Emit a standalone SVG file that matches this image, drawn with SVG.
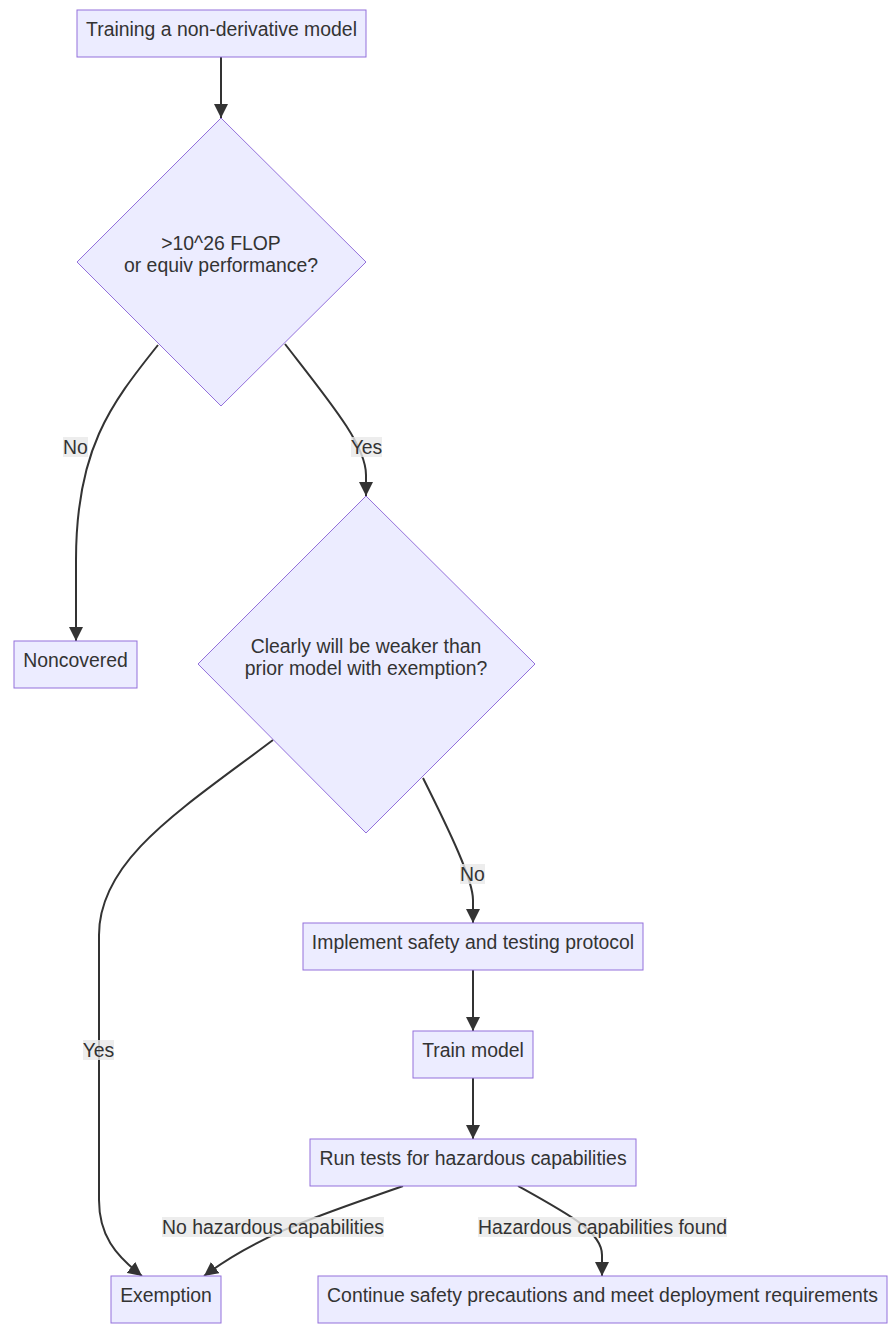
<svg xmlns="http://www.w3.org/2000/svg" width="896" height="1333" viewBox="0 0 896 1333">
<defs>
<marker id="arr" viewBox="0 0 10 10" refX="10" refY="5" markerUnits="userSpaceOnUse" markerWidth="14" markerHeight="14" orient="auto">
<path d="M0,0 L10,5 L0,10 z" fill="#333"/>
</marker>
<style>
.node{fill:#ECECFF;stroke:#9370DB;stroke-width:1}
.t{font-family:"Liberation Sans",Arial,sans-serif;font-size:19.4px;fill:#333;text-anchor:middle}
.edge{fill:none;stroke:#333;stroke-width:2;marker-end:url(#arr)}
.lbg{fill:#e8e8e8;opacity:0.8}
</style>
</defs>
<rect width="896" height="1333" fill="#fff"/>
<g id="connectors">
<path class="edge" d="M221,57 L221,118"/>
<path class="edge" d="M158,345 C110,405 76,450 76,560 L76,641"/>
<path class="edge" d="M285,344 C330,402 366,445 366,475 L366,496"/>
<path class="edge" d="M273,740 C180,810 99,860 99,935 L99,1200 C99,1235 115,1255 142,1276"/>
<path class="edge" d="M423,778 C450,832 473,880 473,900 L473,923"/>
<path class="edge" d="M473,970 L473,1031"/>
<path class="edge" d="M473,1078 L473,1139"/>
<path class="edge" d="M403,1186 C330,1212 262,1232 204,1276"/>
<path class="edge" d="M518,1186 C570,1215 602,1232 602,1255 L602,1276"/>
</g>
<g id="edge-labels">
<g id="lbl-no1"><rect class="lbg" x="63" y="437" width="25" height="20"/><text class="t" x="75.5" y="454">No</text></g>
<g id="lbl-yes1"><rect class="lbg" x="351" y="437" width="31" height="20"/><text class="t" x="366.5" y="454">Yes</text></g>
<g id="lbl-no2"><rect class="lbg" x="460" y="864" width="25" height="20"/><text class="t" x="472.5" y="881">No</text></g>
<g id="lbl-yes2"><rect class="lbg" x="83" y="1040" width="31" height="20"/><text class="t" x="98.5" y="1057">Yes</text></g>
<g id="lbl-nohaz"><rect class="lbg" x="162" y="1217" width="222" height="20"/><text class="t" x="273" y="1234">No hazardous capabilities</text></g>
<g id="lbl-haz"><rect class="lbg" x="478" y="1217" width="249" height="20"/><text class="t" x="602.5" y="1234">Hazardous capabilities found</text></g>
</g>
<g id="n-train-nonderiv"><rect class="node" x="77" y="10" width="289" height="47"/><text class="t" x="221.5" y="36">Training a non-derivative model</text></g>
<g id="n-flop"><polygon class="node" points="221,118 366,262 221,406 77,262"/><text class="t" x="221" y="250">&gt;10^26 FLOP</text><text class="t" x="221" y="272">or equiv performance?</text></g>
<g id="n-noncovered"><rect class="node" x="14" y="641" width="123" height="47"/><text class="t" x="75.5" y="667">Noncovered</text></g>
<g id="n-weaker"><polygon class="node" points="366,496 535,664 366,833 198,664"/><text class="t" x="366" y="653">Clearly will be weaker than</text><text class="t" x="366" y="675">prior model with exemption?</text></g>
<g id="n-implement"><rect class="node" x="303" y="923" width="340" height="47"/><text class="t" x="473" y="949">Implement safety and testing protocol</text></g>
<g id="n-trainmodel"><rect class="node" x="413" y="1031" width="120" height="47"/><text class="t" x="473" y="1057">Train model</text></g>
<g id="n-runtests"><rect class="node" x="310" y="1139" width="326" height="47"/><text class="t" x="473" y="1165">Run tests for hazardous capabilities</text></g>
<g id="n-exemption"><rect class="node" x="111" y="1276" width="110" height="47"/><text class="t" x="166" y="1302">Exemption</text></g>
<g id="n-continue"><rect class="node" x="318" y="1276" width="569" height="47"/><text class="t" x="602.5" y="1302">Continue safety precautions and meet deployment requirements</text></g>
</svg>
